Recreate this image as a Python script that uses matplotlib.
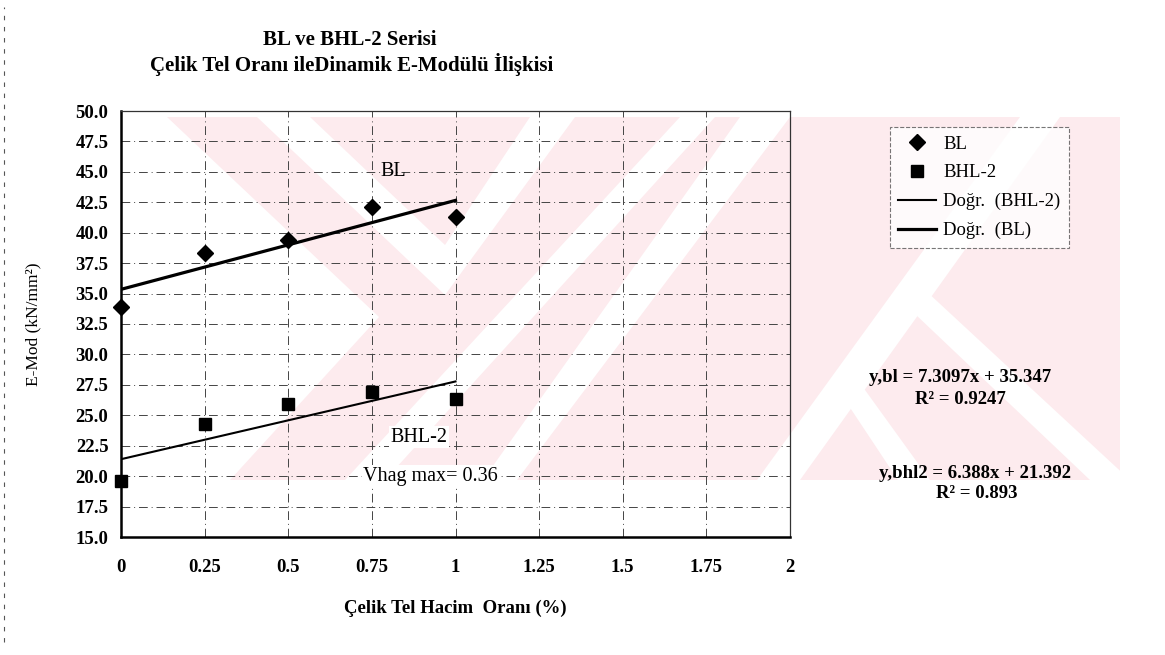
import numpy as np
import matplotlib
matplotlib.use("Agg")
import matplotlib.pyplot as plt
from matplotlib.patches import Polygon
from matplotlib.lines import Line2D

# data
x_oran = [0, 0.25, 0.5, 0.75, 1.0]
bl = [33.9, 38.3, 39.4, 42.1, 41.3]
bhl2 = [19.6, 24.3, 25.9, 26.9, 26.3]
# trendline coefficients printed on the chart
bl_fit = (7.3097, 35.347)
bhl2_fit = (6.388, 21.392)
x_ticks = [0, 0.25, 0.5, 0.75, 1, 1.25, 1.5, 1.75, 2]
x_ticklabels = ["0", "0.25", "0.5", "0.75", "1", "1.25", "1.5", "1.75", "2"]
y_ticks = np.arange(15.0, 50.01, 2.5)

plt.rcParams['font.family'] = ['Liberation Serif', 'DejaVu Serif']

W, H = 1165, 655
fig = plt.figure(figsize=(W / 100, H / 100), dpi=100)

# faint watermark behind the chart (pixel coords, top-left origin)
def shape(pts, color):
    p = [(px / W, 1 - py / H) for px, py in pts]
    fig.add_artist(Polygon(p, closed=True, transform=fig.transFigure,
                           facecolor=color, edgecolor='none', zorder=0))

pink = '#fdebee'
shape([(167, 117), (1120, 117), (1120, 480), (230, 480), (379, 317)], pink)
shape([(257, 117), (310, 117), (445, 245), (530, 117), (575, 117), (445, 295)], 'white')
shape([(680, 117), (715, 117), (385, 480), (345, 480)], 'white')
shape([(740, 117), (790, 117), (517, 480), (483, 480)], 'white')
shape([(1020, 117), (1060, 117), (800, 480), (757, 480)], 'white')
shape([(895, 295), (925, 290), (1130, 480), (1090, 480)], 'white')
shape([(835, 385), (852, 372), (930, 480), (898, 480)], 'white')

# scan edge
fig.add_artist(Line2D([4 / W, 4 / W], [0.02, 0.99], transform=fig.transFigure,
                      color='#555555', lw=0.8, ls=(0, (4, 6))))

ax = fig.add_axes([121 / W, 1 - 537 / H, (790 - 121) / W, (537 - 111) / H])
ax.set_facecolor('none')
ax.set_zorder(1)

ax.set_xlim(0, 2)
ax.set_ylim(15, 50)
ax.set_xticks(x_ticks)
ax.set_xticklabels(x_ticklabels)
ax.set_yticks(y_ticks)
ax.set_yticklabels([f"{v:.1f}" for v in y_ticks])
ax.tick_params(length=0, labelsize=13.5)
ax.tick_params(axis='x', pad=16)
ax.tick_params(axis='y', pad=9)
for lab in ax.get_xticklabels() + ax.get_yticklabels():
    lab.set_fontweight('bold')

ax.grid(True, color='#444444', lw=0.7, ls=(0, (9, 4, 1, 4)))
ax.set_axisbelow(True)
for s in ['left', 'bottom']:
    ax.spines[s].set_linewidth(1.8)
    ax.spines[s].set_color('black')
for s in ['top', 'right']:
    ax.spines[s].set_linewidth(0.9)
    ax.spines[s].set_color('#333333')

xs = np.array([0, 1.0])
ax.plot(x_oran, bl, ls='none', marker='D', ms=8, color='black', label='BL',
        zorder=3, clip_on=False)
ax.plot(x_oran, bhl2, ls='none', marker='s', ms=8.5, color='black', label='BHL-2',
        zorder=3, clip_on=False)
ax.plot(xs, bhl2_fit[0] * xs + bhl2_fit[1], color='black', lw=1.5,
        label='Doğr.  (BHL-2)', zorder=2)
ax.plot(xs, bl_fit[0] * xs + bl_fit[1], color='black', lw=2.3,
        label='Doğr.  (BL)', zorder=2)

ax.text(0.815, 45.0, 'BL', ha='center', va='center', fontsize=14.5)
ax.text(0.89, 23.2, 'BHL-2', ha='center', va='center', fontsize=14.5,
        bbox=dict(facecolor='white', edgecolor='none', pad=1))
ax.text(0.925, 20.0, 'Vhag max= 0.36', ha='center', va='center', fontsize=14.5,
        bbox=dict(facecolor='white', edgecolor='none', pad=1))

ax.set_xlabel('Çelik Tel Hacim  Oranı (%)', fontsize=13.5, fontweight='bold', labelpad=17)
ax.set_ylabel('E-Mod (kN/mm²)', fontsize=12.5)
ax.yaxis.set_label_coords(-80 / 669, 0.5)

fig.text(350 / W, 1 - 40 / H, 'BL ve BHL-2 Serisi', ha='center', va='center',
         fontsize=15, fontweight='bold')
fig.text(352 / W, 1 - 64 / H, 'Çelik Tel Oranı ileDinamik E-Modülü İlişkisi',
         ha='center', va='center', fontsize=15, fontweight='bold')

leg = ax.legend(loc='upper left', bbox_to_anchor=(890 / W, 1 - 127 / H),
                bbox_transform=fig.transFigure, borderaxespad=0, frameon=True,
                fontsize=13.5, handlelength=2.0, handletextpad=0.4,
                labelspacing=0.62, borderpad=0.45, fancybox=False)
leg.get_frame().set_linestyle('--')
leg.get_frame().set_edgecolor('#555555')
leg.get_frame().set_linewidth(0.8)

fig.text(960 / W, 1 - 377 / H, 'y,bl = 7.3097x + 35.347', ha='center', va='center',
         fontsize=13.5, fontweight='bold')
fig.text(960 / W, 1 - 400 / H, 'R² = 0.9247', ha='center', va='center',
         fontsize=13.5, fontweight='bold')
fig.text(975 / W, 1 - 473 / H, 'y,bhl2 = 6.388x + 21.392', ha='center', va='center',
         fontsize=13.5, fontweight='bold')
fig.text(977 / W, 1 - 494 / H, 'R² = 0.893', ha='center', va='center',
         fontsize=13.5, fontweight='bold')

fig.savefig('out.png', dpi=100)
